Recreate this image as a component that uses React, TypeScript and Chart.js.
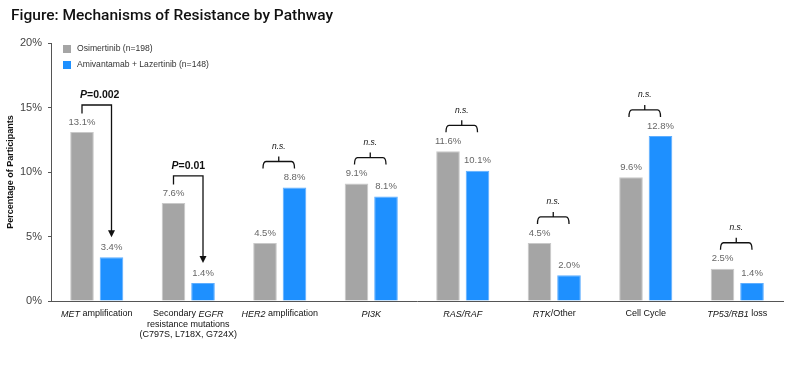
import React, { useEffect, useRef } from "react";
import { Chart, registerables } from "chart.js";

Chart.register(...registerables);

// ---------- data ----------
// "*...*" marks italic segments inside a label
const categories: string[][] = [
  ["*MET* amplification"],
  ["Secondary *EGFR*", "resistance mutations", "(C797S, L718X, G724X)"],
  ["*HER2* amplification"],
  ["*PI3K*"],
  ["*RAS/RAF*"],
  ["*RTK*/Other"],
  ["Cell Cycle"],
  ["*TP53/RB1* loss"],
];
const seriesNames = ["Osimertinib (n=198)", "Amivantamab + Lazertinib (n=148)"];
const osimertinib = [13.1, 7.6, 4.5, 9.1, 11.6, 4.5, 9.6, 2.5];
const amivantamabLazertinib = [3.4, 1.4, 8.8, 8.1, 10.1, 2.0, 12.8, 1.4];
const significance = ["*P*=0.002", "*P*=0.01", "*n.s.*", "*n.s.*", "*n.s.*", "*n.s.*", "*n.s.*", "*n.s.*"];
const yMin = 0;
const yMax = 20;
const yStep = 5;
const titleText = "Figure: Mechanisms of Resistance by Pathway";
const yTitle = "Percentage of Participants";

const FONT = '"Liberation Sans", Arial, sans-serif';
const TITLE_FONT = 'Roboto, "Liberation Sans", Arial, sans-serif';
const GRAY = "#A5A5A5";
const BLUE = "#1E90FF";

function drawRich(ctx: CanvasRenderingContext2D, s: string, cx: number, y: number, size: number, weight: string, color: string, align: "center" | "left" = "center") {
  const parts = s.split("*");
  const segs = parts.map((t, i) => ({ t, italic: i % 2 === 1 })).filter((p) => p.t.length > 0);
  let total = 0;
  const widths = segs.map((p) => {
    ctx.font = `${p.italic ? "italic " : ""}${weight} ${size}px ${FONT}`;
    const w = ctx.measureText(p.t).width;
    total += w;
    return w;
  });
  let x = align === "center" ? cx - total / 2 : cx;
  ctx.fillStyle = color;
  ctx.textAlign = "left";
  ctx.textBaseline = "middle";
  segs.forEach((p, i) => {
    ctx.font = `${p.italic ? "italic " : ""}${weight} ${size}px ${FONT}`;
    ctx.fillText(p.t, x, y);
    x += widths[i];
  });
}

const overlayPlugin = {
  id: "overlay",
  afterDraw(chart: any) {
    const ctx: CanvasRenderingContext2D = chart.ctx;
    const m0 = chart.getDatasetMeta(0);
    const m1 = chart.getDatasetMeta(1);
    const xs = chart.scales.x;
    ctx.save();

    // title
    ctx.fillStyle = "#111";
    ctx.font = `500 15.5px ${TITLE_FONT}`;
    ctx.textAlign = "left";
    ctx.textBaseline = "alphabetic";
    ctx.fillText(titleText, 11, 20);

    // legend
    const colors = [GRAY, BLUE];
    seriesNames.forEach((n, i) => {
      const cy = 49 + i * 16;
      ctx.fillStyle = colors[i];
      ctx.fillRect(63, cy - 4, 8, 8);
      ctx.fillStyle = "#333";
      ctx.font = `8.6px ${FONT}`;
      ctx.textAlign = "left";
      ctx.textBaseline = "middle";
      ctx.fillText(n, 77, cy);
    });

    // value labels
    [m0, m1].forEach((m, di) => {
      const arr = di === 0 ? osimertinib : amivantamabLazertinib;
      m.data.forEach((bar: any, i: number) => {
        ctx.fillStyle = "#666";
        ctx.font = `9.5px ${FONT}`;
        ctx.textAlign = "center";
        ctx.textBaseline = "middle";
        ctx.fillText(arr[i].toFixed(1) + "%", bar.x, bar.y - 10);
      });
    });

    // x labels
    categories.forEach((lines, i) => {
      const cx = xs.getPixelForValue(i);
      lines.forEach((ln, j) => {
        drawRich(ctx, ln, cx, 314 + j * 10.5, 9, "normal", "#111");
      });
    });

    // significance annotations
    ctx.strokeStyle = "#111";
    ctx.fillStyle = "#111";
    ctx.lineWidth = 1.3;
    significance.forEach((sig, i) => {
      const g = m0.data[i];
      const b = m1.data[i];
      if (sig.indexOf("n.s.") < 0) {
        const startY = g.y - 18.5;
        const hY = g.y - 27;
        const tipY = b.y - 20;
        ctx.beginPath();
        ctx.moveTo(g.x, startY);
        ctx.lineTo(g.x, hY);
        ctx.lineTo(b.x, hY);
        ctx.lineTo(b.x, tipY - 5);
        ctx.stroke();
        ctx.beginPath();
        ctx.moveTo(b.x - 3.5, tipY - 7);
        ctx.lineTo(b.x + 3.5, tipY - 7);
        ctx.lineTo(b.x, tipY);
        ctx.closePath();
        ctx.fill();
        drawRich(ctx, sig, g.x - 2, hY - 9.5, 10.5, "bold", "#111", "left");
      } else {
        const top = Math.min(g.y, b.y);
        const hY = top - 26;
        const x1 = g.x - 2;
        const x2 = b.x;
        const mid = (x1 + x2) / 2;
        ctx.beginPath();
        ctx.moveTo(x1, hY + 7);
        ctx.quadraticCurveTo(x1, hY, x1 + 3, hY);
        ctx.lineTo(x2 - 3, hY);
        ctx.quadraticCurveTo(x2, hY, x2, hY + 7);
        ctx.moveTo(mid, hY);
        ctx.lineTo(mid, hY - 5);
        ctx.stroke();
        drawRich(ctx, sig, mid, hY - 15, 8.5, "normal", "#111");
      }
    });

    ctx.restore();
  },
};

export default function App() {
  const ref = useRef<HTMLCanvasElement | null>(null);
  useEffect(() => {
    if (!ref.current) return;
    const chart = new Chart(ref.current, {
      type: "bar",
      data: {
        labels: categories.map((c) => c.map((s) => s.replace(/\*/g, ""))),
        datasets: [
          {
            label: seriesNames[0],
            data: osimertinib,
            backgroundColor: GRAY,
            borderColor: "#C9C9C9",
            borderWidth: 1,
            categoryPercentage: 0.645,
            barPercentage: 0.8,
          },
          {
            label: seriesNames[1],
            data: amivantamabLazertinib,
            backgroundColor: BLUE,
            borderColor: "#5EAEFF",
            borderWidth: 1,
            categoryPercentage: 0.645,
            barPercentage: 0.8,
          },
        ],
      },
      options: {
        responsive: false,
        maintainAspectRatio: false,
        animation: false,
        devicePixelRatio: 1,
        layout: { padding: { left: 0, right: 17, top: 43, bottom: 0 } },
        plugins: {
          legend: { display: false },
          tooltip: { enabled: false },
          title: { display: false },
        },
        scales: {
          x: {
            grid: { display: false },
            border: { display: true, color: "#555", width: 1 },
            ticks: { display: false },
            afterFit: (s: any) => {
              s.height = 87;
            },
          },
          y: {
            min: yMin,
            max: yMax,
            ticks: {
              stepSize: yStep,
              callback: (v: any) => v + "%",
              font: { size: 11, family: FONT },
              color: "#444",
              padding: 6,
            },
            grid: { drawOnChartArea: false, drawTicks: true, tickLength: 3, color: "#555" },
            border: { display: true, color: "#555", width: 1 },
            title: {
              display: true,
              text: yTitle,
              font: { size: 9, weight: "bold", family: FONT },
              color: "#111",
              padding: { top: 5, bottom: 0 },
            },
            afterFit: (s: any) => {
              s.width = 51;
            },
          },
        },
      },
      plugins: [overlayPlugin],
    } as any);
    return () => chart.destroy();
  }, []);
  return (
    <div style={{ position: "absolute", left: 0, top: 0, width: 800, height: 388, background: "#fff" }}>
      <canvas ref={ref} width={800} height={388} style={{ display: "block", width: 800, height: 388 }} />
    </div>
  );
}
